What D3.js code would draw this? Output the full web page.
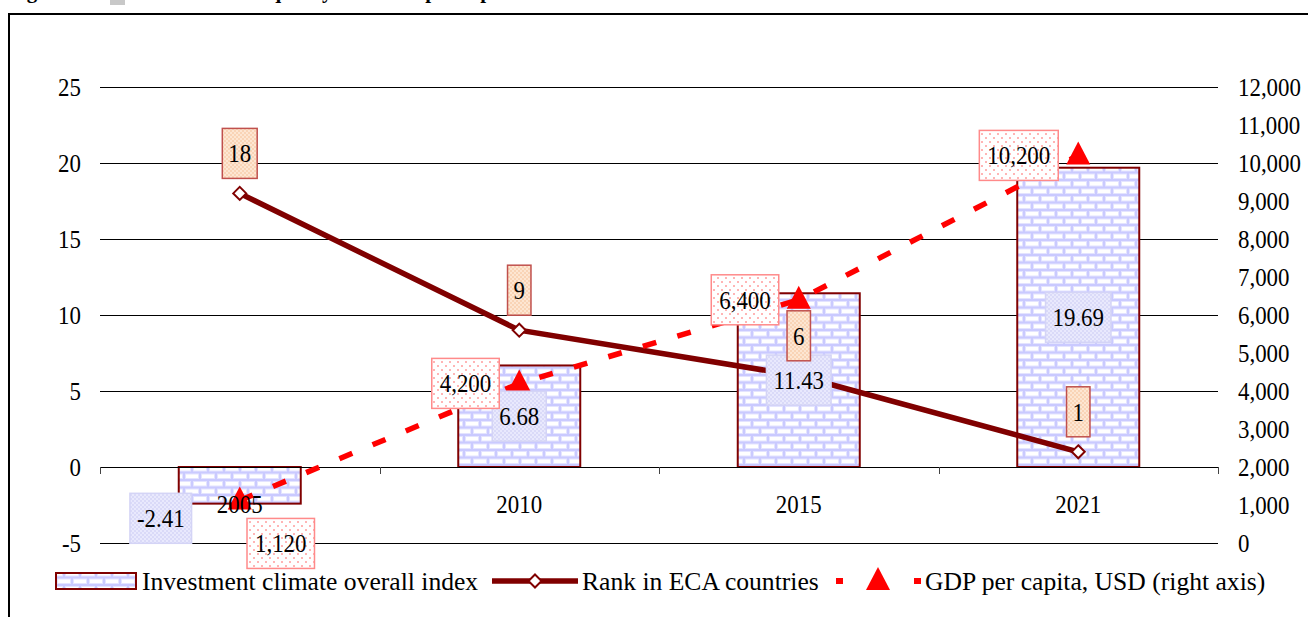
<!DOCTYPE html>
<html>
<head>
<meta charset="utf-8">
<script src="https://cdn.jsdelivr.net/npm/d3@7"></script>
<style>
  body { margin: 0; background: #fff; }
  svg, svg text { font-family: "Liberation Serif", "Tinos", "Times New Roman", "DejaVu Serif", serif !important; }
</style>
</head>
<body>
<div id="chart-area"></div>
<script>
// Data
const years = ["2005", "2010", "2015", "2021"]
const indexValues = [-2.41, 6.68, 11.43, 19.69]
const rankValues = [18, 9, 6, 1]
const gdpValues = [1120, 4200, 6400, 10200]
const leftTicks = [-5, 0, 5, 10, 15, 20, 25]
const rightTicks = [0, 1000, 2000, 3000, 4000, 5000, 6000, 7000, 8000, 9000, 10000, 11000, 12000]
const legendLabels = ["Investment climate overall index", "Rank in ECA countries", "GDP per capita, USD (right axis)"]

const W = 1308, H = 617
const PLOT = { LEFT: 100, RIGHT: 1218, TOP: 87, BOTTOM: 543 }
const FS = 26          // numbers
const SQUEEZE = 0.88   // numbers in the original look narrow
const FONT = "'Liberation Serif', 'Times New Roman', serif"
const DARK = "#800000"

const svg = d3.select("#chart-area").append("svg")
  .attr("width", W)
  .attr("height", H)
  .style("font-family", FONT)

// squeeze a text horizontally, keeping its anchor
function squeeze(sel) {
  sel.each(function() {
    const len = this.getComputedTextLength()
    d3.select(this).attr("textLength", len * SQUEEZE).attr("lengthAdjust", "spacingAndGlyphs")
  })
}

// Patterns
const defs = svg.append("defs")
const brick = defs.append("pattern").attr("id", "brick")
  .attr("patternUnits", "userSpaceOnUse").attr("width", 16).attr("height", 15)
brick.append("rect").attr("width", 16).attr("height", 15).attr("fill", "#cacaff")
;[[1, 1], [-7, 8.5], [9, 8.5]].forEach(p => {
  brick.append("rect").attr("x", p[0] + 0.5).attr("y", p[1] + 0.5).attr("width", 13).attr("height", 4.5)
    .attr("fill", "#fff").attr("stroke", "#e4e4ff").attr("stroke-width", 1)
})

function checker(id, bg, fg, step) {
  const p = defs.append("pattern").attr("id", id)
    .attr("patternUnits", "userSpaceOnUse").attr("width", step * 2).attr("height", step * 2)
  p.append("rect").attr("width", step * 2).attr("height", step * 2).attr("fill", bg)
  p.append("rect").attr("width", step).attr("height", step).attr("fill", fg)
  p.append("rect").attr("x", step).attr("y", step).attr("width", step).attr("height", step).attr("fill", fg)
}
checker("check-blue", "#e9e9fd", "#dadaf8", 2)
checker("check-peach", "#fde6d2", "#f9d4b6", 2)

const dots = defs.append("pattern").attr("id", "dots")
  .attr("patternUnits", "userSpaceOnUse").attr("width", 8).attr("height", 8)
dots.append("rect").attr("width", 8).attr("height", 8).attr("fill", "#fff")
dots.append("circle").attr("cx", 2).attr("cy", 2).attr("r", 1).attr("fill", "#ff9c9c")
dots.append("circle").attr("cx", 6).attr("cy", 6).attr("r", 1).attr("fill", "#ff9c9c")

// Title fragment (cut off at top in the original) and outer frame
svg.append("text")
  .attr("x", 8).attr("y", -2)
  .attr("font-size", 21).attr("font-weight", "bold")
  .text("Figure 2.      Investment climate quality and GDP per capita")
svg.append("rect").attr("x", 110).attr("y", 0).attr("width", 15).attr("height", 5).attr("fill", "#c8c8c8")
svg.append("rect")
  .attr("x", 9).attr("y", 14).attr("width", 1400).attr("height", 800)
  .attr("fill", "none").attr("stroke", "#000").attr("stroke-width", 2)

// Scales
const x = d3.scaleBand()
  .domain(years)
  .range([PLOT.LEFT, PLOT.RIGHT])
  .padding(0)
const barW = 122

const yL = d3.scaleLinear()
  .domain([-5, 25])
  .range([PLOT.BOTTOM, PLOT.TOP])

const yR = d3.scaleLinear()
  .domain([0, 12000])
  .range([PLOT.BOTTOM, PLOT.TOP])

const cx = d => x(d) + x.bandwidth() / 2

function styleAxis(g) {
  g.attr("font-family", null)
  g.select(".domain").remove()
  g.selectAll("text").attr("font-size", FS).style("font-family", FONT).attr("fill", "#000")
    .call(squeeze)
}

// Gridlines
svg.append("g").attr("class", "grid")
  .selectAll("line")
  .data(leftTicks.filter(t => t !== 0))
  .enter().append("line")
    .attr("x1", PLOT.LEFT).attr("x2", PLOT.RIGHT)
    .attr("y1", d => yL(d) + 0.5).attr("y2", d => yL(d) + 0.5)
    .attr("stroke", "#000").attr("stroke-width", 1)

// Left axis
const leftAxis = d3.axisLeft(yL).tickValues(leftTicks).tickSize(0).tickPadding(19)
  .tickFormat(d => String(d))
svg.append("g")
  .attr("class", "left axis")
  .attr("transform", `translate(${PLOT.LEFT}, 0)`)
  .call(leftAxis)
  .call(styleAxis)

// Right axis
const rightAxis = d3.axisRight(yR).tickValues(rightTicks).tickSize(0).tickPadding(20)
  .tickFormat(d3.format(","))
svg.append("g")
  .attr("class", "right axis")
  .attr("transform", `translate(${PLOT.RIGHT}, 0)`)
  .call(rightAxis)
  .call(styleAxis)

// Bars
svg.append("g").attr("class", "bars")
  .selectAll("rect")
  .data(years)
  .enter().append("rect")
    .attr("x", d => cx(d) - barW / 2)
    .attr("width", barW)
    .attr("y", (d, i) => yL(Math.max(0, indexValues[i])))
    .attr("height", (d, i) => Math.abs(yL(indexValues[i]) - yL(0)))
    .attr("fill", "url(#brick)")
    .attr("stroke", DARK).attr("stroke-width", 2)

// Zero line with category ticks
svg.append("line")
  .attr("x1", PLOT.LEFT).attr("x2", PLOT.RIGHT)
  .attr("y1", yL(0) + 0.5).attr("y2", yL(0) + 0.5)
  .attr("stroke", "#000").attr("stroke-width", 1)
const bounds = years.map(d => x(d)).concat([PLOT.RIGHT])
svg.append("g").selectAll("line")
  .data(bounds)
  .enter().append("line")
    .attr("x1", d => Math.round(d) + 0.5).attr("x2", d => Math.round(d) + 0.5)
    .attr("y1", yL(0)).attr("y2", yL(0) + 7)
    .attr("stroke", "#444").attr("stroke-width", 1)

// Rank line
const diamond = "M0,-6.5L6.5,0L0,6.5L-6.5,0Z"
const triangle = "M0,-14L12,9L-12,9Z"

const rankLine = d3.line()
  .x((d, i) => cx(years[i]))
  .y(d => yL(d))
svg.append("path")
  .datum(rankValues)
  .attr("d", rankLine)
  .attr("fill", "none").attr("stroke", DARK).attr("stroke-width", 5.5)

// GDP line
const gdpLine = d3.line()
  .x((d, i) => cx(years[i]))
  .y(d => yR(d))
svg.append("path")
  .datum(gdpValues)
  .attr("d", gdpLine)
  .attr("fill", "none").attr("stroke", "#ff0000").attr("stroke-width", 5.5)
  .attr("stroke-dasharray", "14,22")

svg.append("g").selectAll("path")
  .data(rankValues)
  .enter().append("path")
    .attr("d", diamond)
    .attr("transform", (d, i) => `translate(${cx(years[i])}, ${yL(d)})`)
    .attr("fill", "#fff").attr("stroke", DARK).attr("stroke-width", 2)

svg.append("g").selectAll("path")
  .data(gdpValues)
  .enter().append("path")
    .attr("d", triangle)
    .attr("transform", (d, i) => `translate(${cx(years[i])}, ${yR(d)})`)
    .attr("fill", "#ff0000")

// Category labels (drawn over the markers, as in the original)
const bottomAxis = d3.axisBottom(x).tickSize(0).tickPadding(28)
svg.append("g")
  .attr("class", "bottom axis")
  .attr("transform", `translate(0, ${yL(0)})`)
  .call(bottomAxis)
  .call(styleAxis)

// Data label boxes
function labelBox(txt, px, py, anchor, fill, stroke, padX) {
  const g = svg.append("g")
  const rect = g.append("rect")
  const t = g.append("text")
    .attr("font-size", FS).attr("fill", "#000")
    .style("font-family", FONT)
    .text(txt)
  const tw = t.node().getComputedTextLength() * SQUEEZE
  t.attr("textLength", tw).attr("lengthAdjust", "spacingAndGlyphs")
  const bw = tw + padX * 2, bh = 50
  const left = anchor === "end" ? px - bw : px - bw / 2
  rect.attr("x", left).attr("y", py - bh / 2).attr("width", bw).attr("height", bh)
    .attr("fill", fill).attr("stroke", stroke).attr("stroke-width", 1.5)
  t.attr("x", left + padX).attr("y", py + 9)
}

// Bar value labels (first one was moved by hand in the original)
const barLabelShift = [[-79, 33], [0, 0], [0, 0], [0, 0]]
indexValues.forEach((v, i) => {
  const px = cx(years[i]) + barLabelShift[i][0]
  const py = (yL(0) + yL(v)) / 2 + barLabelShift[i][1]
  labelBox(String(v), px, py, "middle", "url(#check-blue)", "#d4d4f6", 7)
})

// Rank labels
rankValues.forEach((v, i) => {
  labelBox(String(v), cx(years[i]), yL(v) - 40, "middle", "url(#check-peach)", "#c0504d", 6)
})

// GDP labels (first one moved below-right)
gdpValues.forEach((v, i) => {
  const txt = d3.format(",")(v)
  if (i === 0) {
    labelBox(txt, cx(years[i]) + 41, yR(v) + 43, "middle", "url(#dots)", "#ff8a8a", 8)
  } else {
    labelBox(txt, cx(years[i]) - 20, yR(v), "end", "url(#dots)", "#ff8a8a", 8)
  }
})

// Legend
const LY = 581
const LFS = 25.6
const lg = svg.append("g").attr("class", "legend")
lg.append("rect")
  .attr("x", 56).attr("y", LY - 8).attr("width", 80).attr("height", 16)
  .attr("fill", "url(#brick)").attr("stroke", DARK).attr("stroke-width", 2)
lg.append("text").attr("x", 142).attr("y", LY + 9).attr("font-size", LFS).text(legendLabels[0])

lg.append("line")
  .attr("x1", 492).attr("x2", 578).attr("y1", LY).attr("y2", LY)
  .attr("stroke", DARK).attr("stroke-width", 5.5)
lg.append("path").attr("d", diamond)
  .attr("transform", `translate(535, ${LY})`)
  .attr("fill", "#fff").attr("stroke", DARK).attr("stroke-width", 2)
lg.append("text").attr("x", 582).attr("y", LY + 9).attr("font-size", LFS).text(legendLabels[1])

lg.append("line")
  .attr("x1", 836).attr("x2", 921).attr("y1", LY).attr("y2", LY)
  .attr("stroke", "#ff0000").attr("stroke-width", 6)
  .attr("stroke-dasharray", "7,71")
lg.append("path").attr("d", triangle)
  .attr("transform", `translate(878, ${LY})`)
  .attr("fill", "#ff0000")
lg.append("text").attr("x", 925).attr("y", LY + 9).attr("font-size", LFS).text(legendLabels[2])
</script>
</body>
</html>
